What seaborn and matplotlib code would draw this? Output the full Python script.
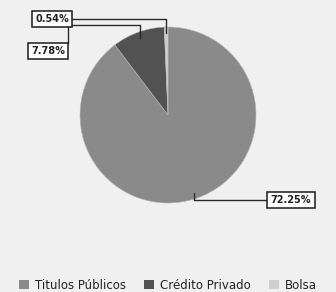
import numpy as np
import matplotlib
matplotlib.use('Agg')
import matplotlib.pyplot as plt
import seaborn as sns
from matplotlib.patches import Patch

sns.set_style('white')
plt.rcParams['font.family'] = ['DejaVu Sans']

# data
categories = ['Titulos Públicos', 'Crédito Privado', 'Bolsa']
shares = [72.25, 7.78, 0.54]
label_text = ['72.25%', '7.78%', '0.54%']
colors = ['#8a8a8a', '#525252', '#cfcfcf']
bg = '#f0f0f0'

W, H = 336, 292
fig = plt.figure(figsize=(W / 100, H / 100), dpi=100, facecolor=bg)
ax = fig.add_axes([0, 0, 1, 1])
ax.set_facecolor(bg)

cx, cy, R = 168, H - 115, 88
wedges, _ = ax.pie(shares, colors=colors, startangle=90, counterclock=False,
                   center=(cx, cy), radius=R, frame=True,
                   wedgeprops=dict(edgecolor='#b8b8b8', linewidth=0.4))
ax.set_xlim(0, W)
ax.set_ylim(0, H)
ax.set_aspect('equal')
ax.axis('off')

# anchor points on the pie at each wedge's mid angle
anchors = []
for w in wedges:
    mid = np.deg2rad((w.theta1 + w.theta2) / 2)
    anchors.append((cx + 0.93 * R * np.cos(mid), cy + 0.93 * R * np.sin(mid)))

box = dict(boxstyle='square,pad=0.35', fc='white', ec='#1a1a1a', lw=1.1)
lkw = dict(color='#2a2a2a', lw=1.0, zorder=3)
tkw = dict(fontsize=7, fontweight='bold', ha='center', va='center',
           color='#222222', bbox=box, zorder=5)

# 72.25% -> box on the right
bx, by = 291, H - 200
ax0, ay0 = anchors[0]
ax.plot([ax0, ax0, bx - 22], [ay0, by, by], **lkw)
ax.text(bx, by, label_text[0], **tkw)

# 7.78% -> box on the left, leader goes over the top
bx, by = 48, H - 51
ax1, ay1 = anchors[1]
elbow = H - 25
ax.plot([bx + 20, bx + 20, ax1, ax1], [by + 8, elbow, elbow, ay1], **lkw)
ax.text(bx, by, label_text[1], **tkw)

# 0.54% -> box at top left
bx, by = 52, H - 19
ax2, ay2 = anchors[2]
ax.plot([bx + 20, ax2, ax2], [by, by, ay2], **lkw)
ax.text(bx, by, label_text[2], **tkw)

handles = [Patch(facecolor=c, edgecolor='none') for c in colors]
fig.legend(handles, categories, loc='lower center', ncol=3, frameon=False,
           bbox_to_anchor=(0.5, -0.035), fontsize=8.5, handlelength=0.9,
           handleheight=0.9, handletextpad=0.5, columnspacing=1.5,
           labelcolor='#222222')

fig.savefig('out.png', dpi=100, facecolor=bg)
